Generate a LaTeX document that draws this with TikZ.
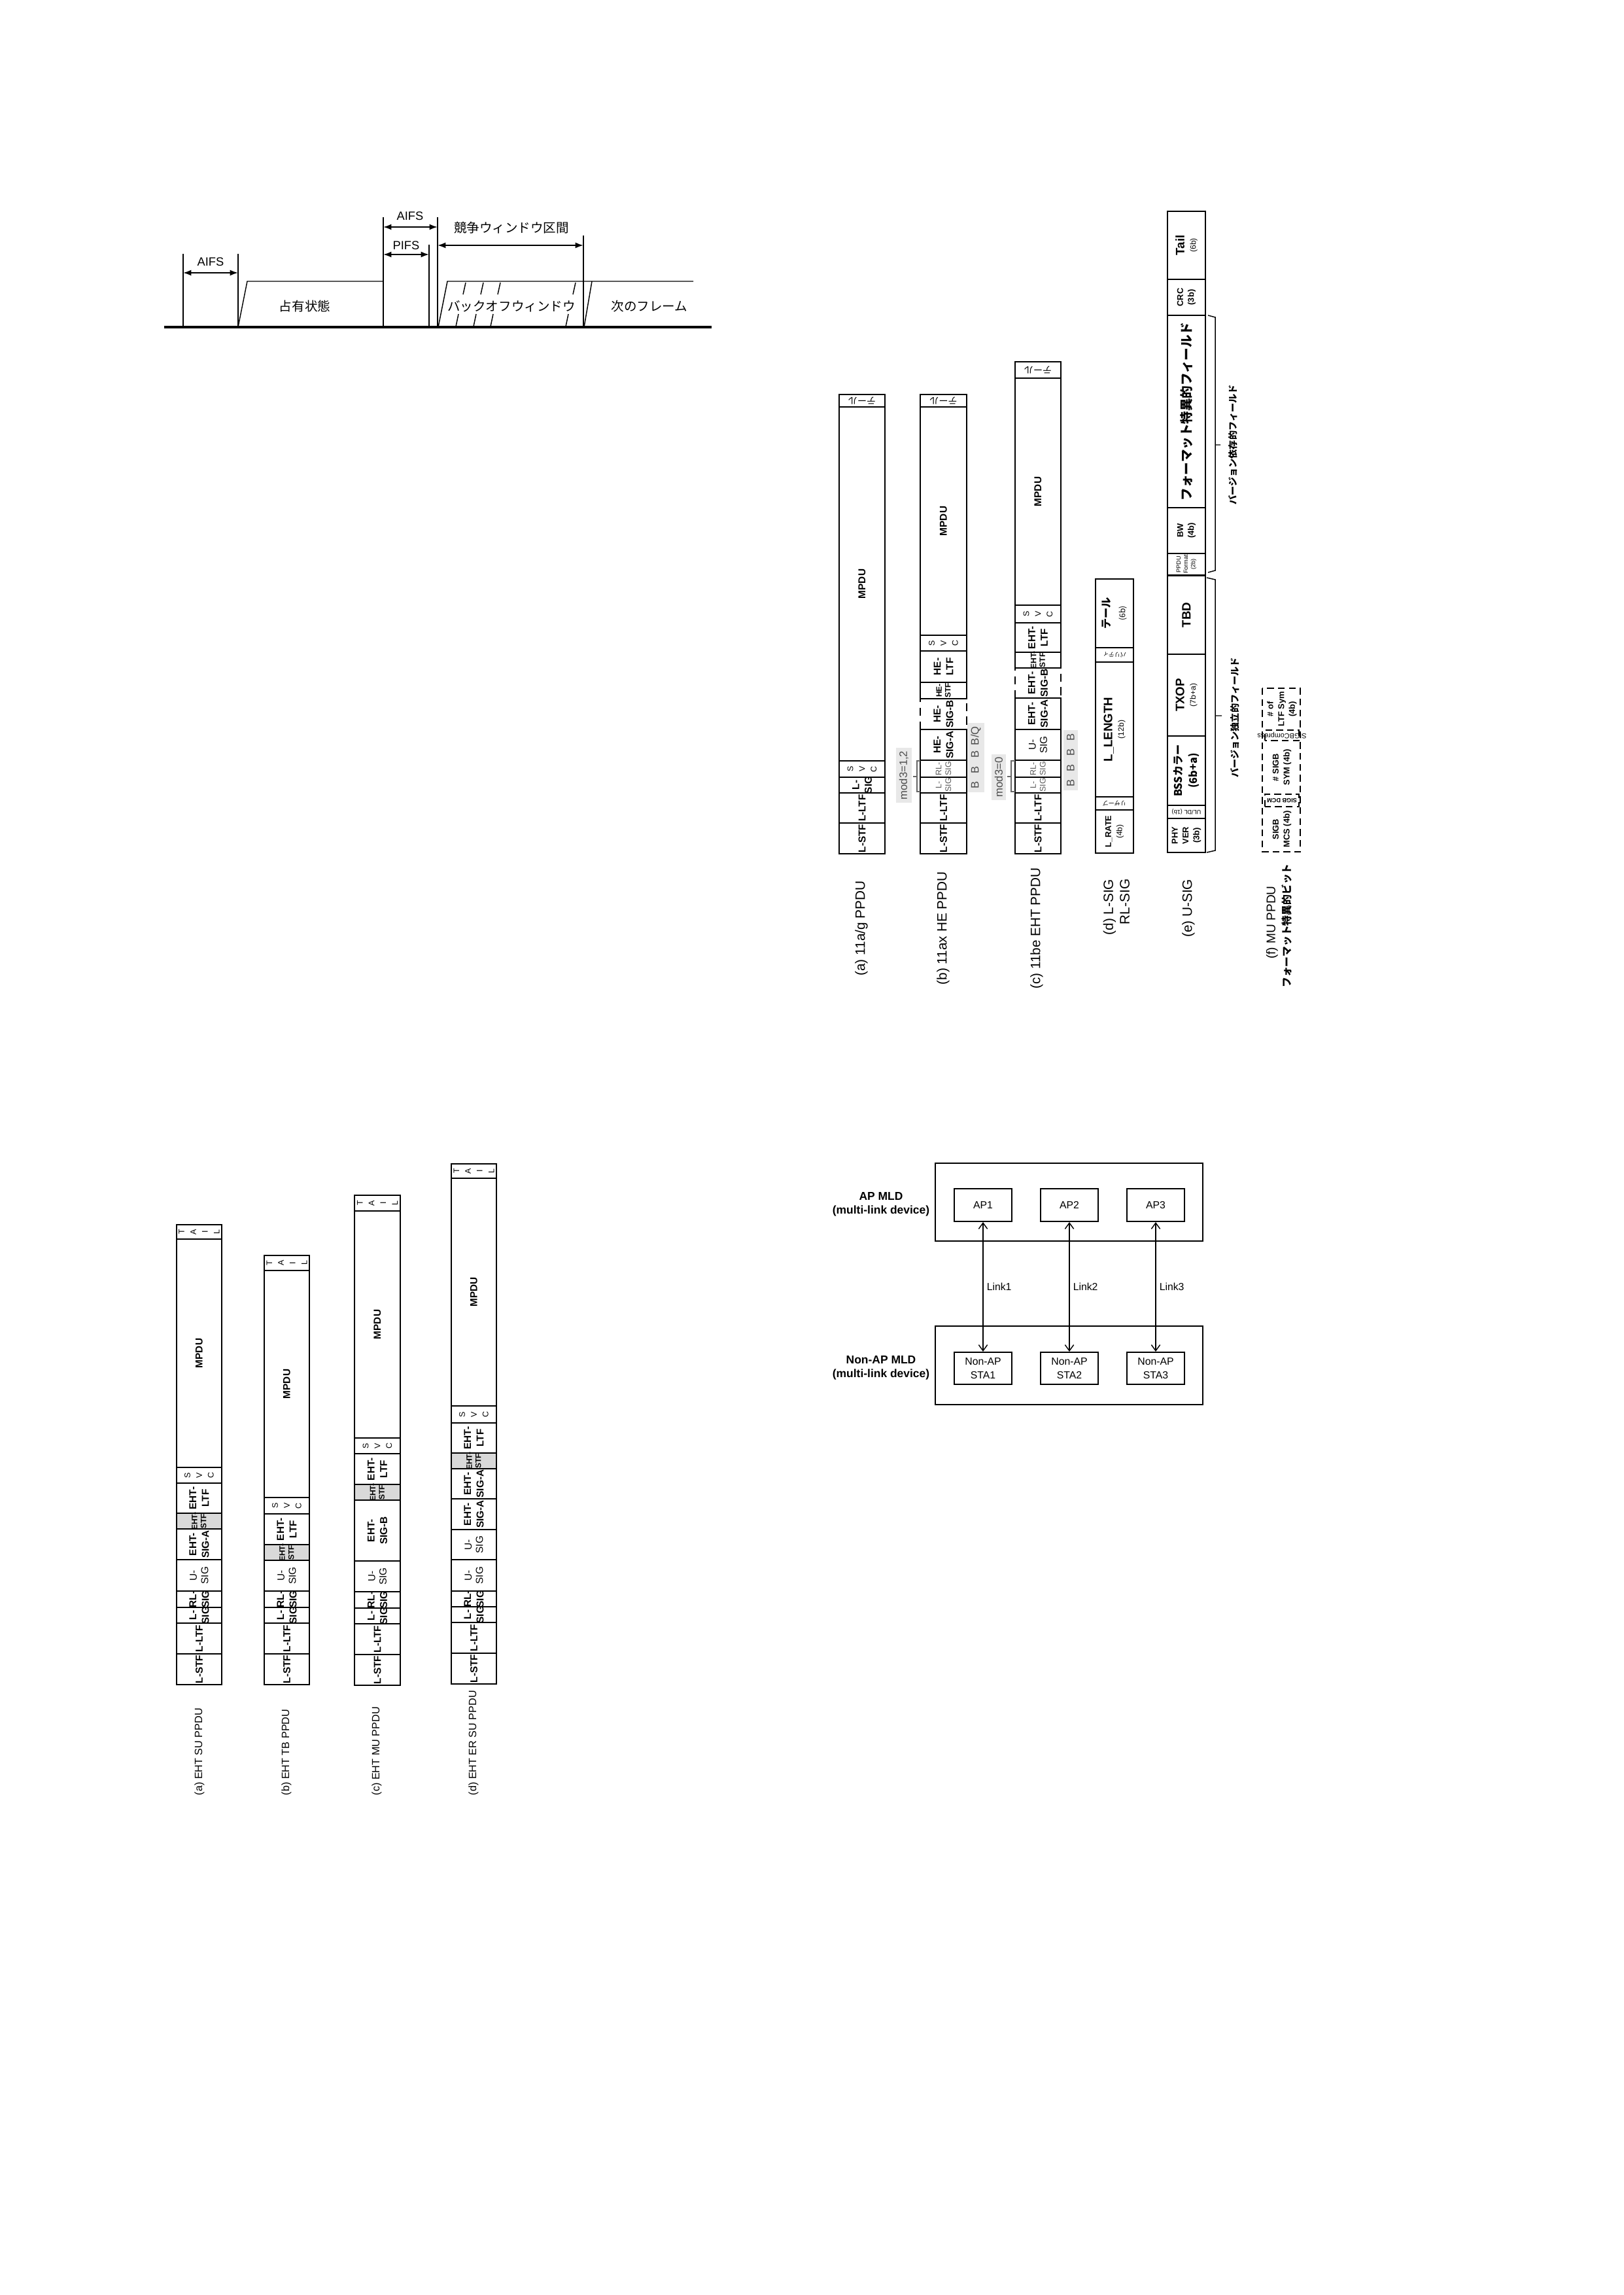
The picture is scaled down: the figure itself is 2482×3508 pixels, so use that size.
\documentclass[tikz,border=0pt]{standalone}
\usepackage{fontspec}
\setmainfont{Liberation Sans}
\newfontfamily\jp{Noto Sans CJK JP}
\usetikzlibrary{arrows.meta,positioning}

\newlength\pxu
\setlength\pxu{0.084611mm}
\newcommand{\fz}[2]{\fontsize{#1}{#2}\selectfont}
\newcommand{\bt}[1]{{\mdseries\fz{2.9}{3.4}#1}}

% one PPDU column: name, left x, right x, fields bottom/top/box/label/text
\newcommand{\ppducol}[4]{%
  \foreach \yb/\yt/\bs/\ls/\txt [count=\i] in {#4}{%
    \path[\bs] (#2,\yb) rectangle (#3,\yt);
    \node[\ls] (#1-\i) at ({(#2+#3)/2},{(\yb+\yt)/2}) {\txt};
  }}

\tikzset{
  fld/.style={draw,line width=0.45pt},
  dfld/.style={draw,line width=0.6pt,dash pattern=on 3pt off 2pt},
  ddf/.style={draw,line width=0.7pt,dash pattern=on 2.5pt off 1.5pt},
  gfld/.style={draw,line width=0.45pt,fill=gray!30},
  rl/.style={rotate=90,align=center,inner sep=0pt},
  tb/.style={rl,font=\bfseries\fz{3.7}{4.6}},
  tr/.style={rl,font=\fz{3.7}{4.2}},
  tg/.style={rl,text=black!65,font=\fz{3}{3.5}},
  ts/.style={rl,font=\bfseries\fz{2.9}{3.3}},
  tsv/.style={rl,font=\fz{3}{4.3}},
  tbs/.style={rl,font=\bfseries\fz{3.1}{4}},
  tbl/.style={rl,font=\bfseries\fz{4.5}{4.2}},
  tjl/.style={rl,font=\jp\bfseries\fz{3.9}{5.4}},
  tjx/.style={rl,font=\jp\bfseries\fz{4.7}{5}},
  tpp/.style={rl,font=\fz{2.2}{2.7}},
  tj/.style={rotate=180,inner sep=0pt,font=\jp\fz{3.4}{4}},
  tu/.style={rotate=180,inner sep=0pt,font=\jp\fz{2.2}{2.5}},
  tul/.style={rotate=180,inner sep=0pt,font=\fz{2.2}{2.5}},
  capt/.style={rl,font=\fz{5}{6}},
  captb/.style={rl,font=\fz{3.9}{4.6}},
  brc/.style={draw,black!60,line width=0.35pt},
  hl/.style={rotate=90,fill=gray!18,text=black!70,inner sep=1.2pt,font=\fz{4}{4}},
  tline/.style={line width=0.35pt},
  dimarr/.style={<->,>={Latex[length=3pt,width=2.2pt]},line width=0.5pt},
  tlbl/.style={inner sep=0pt,font=\fz{4.4}{5}},
  tjp/.style={inner sep=0pt,font=\jp\fz{4.7}{5}},
  mbox/.style={draw,line width=0.5pt,minimum width=88\pxu,minimum height=50\pxu,align=center,inner sep=0pt,font=\fz{3.8}{5}},
  mld/.style={draw,line width=0.6pt,minimum width=409\pxu,minimum height=119\pxu},
  mlbl/.style={align=center,inner sep=0pt,font=\bfseries\fz{4.2}{5}},
  lnk/.style={<->,>={Straight Barb[length=2.2pt,width=3.2pt]},line width=0.35pt},
}

\begin{document}
\begin{tikzpicture}[x=0.084611mm,y=-0.084611mm]
\useasboundingbox (0,0) rectangle (2482,3508);

% ---- access timing ----
\draw[line width=1pt] (251,500) -- (1088,500);
\foreach \x/\yt in {280/388,364/388,586/332,656/374,669/332,892/360}
  \draw[tline] (\x,\yt) -- (\x,500);
\draw[tline] (364,500) -- (378,430) -- (586,430);
\draw[tline] (670,500) -- (684,430) -- (1060,430);
\draw[tline] (893,500) -- (905,430);
\foreach \x in {712,739,765,880}{
  \draw[tline] (\x,432) -- (\x-4,450);
  \draw[tline] (\x-11,480) -- (\x-15,499);
}
\draw[dimarr] (280,417) -- (364,417);
\draw[dimarr] (586,347) -- (669,347);
\draw[dimarr] (586,389) -- (656,389);
\draw[dimarr] (669,375) -- (892,375);
\node[tlbl] (aifs1) at (322,400) {AIFS};
\node[tlbl] (aifs2) at (627,330) {AIFS};
\node[tlbl] (pifs) at (621,375) {PIFS};
\node[tjp] (cw) at (782,348) {競争ウィンドウ区間};
\node[tjp] (busy) at (466,468) {占有状態};
\node[tjp] (bo) at (782,468) {バックオフウィンドウ};
\node[tjp] (nxt) at (993,468) {次のフレーム};

% ---- PPDU formats ----
\ppducol{pa}{1283}{1353}{1305/1258/fld/tb/L-STF, 1258/1212/fld/tb/L-LTF,
  1212/1188/fld/tb/{L-\\SIG}, 1188/1163/fld/tsv/{S\\V\\C},
  1163/622/fld/tb/MPDU, 622/603/fld/tj/テール}
\ppducol{pb}{1407}{1478}{1305/1258/fld/tb/L-STF, 1258/1212/fld/tb/L-LTF,
  1212/1188/fld/tg/{L-\\SIG}, 1188/1162/fld/tg/{RL-\\SIG},
  1162/1115/fld/tb/{HE-\\SIG-A}, 1115/1068/dfld/tb/{HE-\\SIG-B},
  1068/1043/fld/ts/{HE-\\STF}, 1043/995/fld/tb/{HE-\\LTF},
  995/971/fld/tsv/{S\\V\\C}, 971/622/fld/tb/MPDU, 622/603/fld/tj/テール}
\ppducol{pc}{1552}{1622}{1305/1258/fld/tb/L-STF, 1258/1212/fld/tb/L-LTF,
  1212/1188/fld/tg/{L-\\SIG}, 1188/1162/fld/tg/{RL-\\SIG},
  1162/1115/fld/tr/{U-\\SIG}, 1115/1067/fld/tb/{EHT-\\SIG-A},
  1067/1021/dfld/tb/{EHT-\\SIG-B}, 1021/997/fld/ts/{EHT-\\STF},
  997/952/fld/tb/{EHT-\\LTF}, 952/925/fld/tsv/{S\\V\\C},
  925/578/fld/tb/MPDU, 578/553/fld/tj/テール}
\ppducol{pd}{1675}{1733}{1304/1238/fld/tbs/{L\_RATE\\\bt{(4b)}},
  1238/1218/fld/tu/リザーブ, 1218/1012/fld/tbl/{L\_LENGTH\\\bt{(12b)}},
  1012/990/fld/tu/パリティ, 990/885/fld/tjl/{テール\\\bt{(6b)}}}
\ppducol{pe}{1785}{1843}{1303/1251/fld/tbs/{PHY\\VER\\(3b)},
  1251/1231/fld/tul/{UL/DL (1b)}, 1231/1125/fld/tjl/{BSSカラー\\(6b+a)},
  1125/1000/fld/tbl/{TXOP\\\bt{(7b+a)}}, 1000/880/fld/tbl/TBD,
  879/846/fld/tpp/{PPDU\\Format\\(2b)}, 846/776/fld/tbs/{BW\\(4b)},
  776/482/fld/tjx/フォーマット特異的フィールド, 482/427/fld/tbs/{CRC\\(3b)},
  427/323/fld/tbl/{Tail\\\bt{(6b)}}}
\draw[ddf] (1930,1052) rectangle (1988,1302);
\ppducol{pf}{1934}{1986}{1302/1233/{}/tbs/{SIGB\\MCS (4b)},
  1233/1214/ddf/tul/{\bfseries SIGB DCM}, 1214/1132/{}/tbs/{\# SIGB\\SYM (4b)},
  1132/1116/ddf/tul/{\fz{2.6}{3}SIGBCompress}, 1116/1052/{}/tbs/{\# of\\LTF Sym\\(4b)}}

% mod3 annotations
\draw[brc] (1407,1163) -- (1402,1163) -- (1402,1210) -- (1407,1210) (1402,1187) -- (1396,1187);
\draw[brc] (1552,1163) -- (1546,1163) -- (1546,1210) -- (1552,1210) (1546,1187) -- (1540,1187);
\node[hl] (m12) at (1382,1185) {mod3=1,2};
\node[hl] (bb1) at (1492,1158) {B\hspace{3pt}B\hspace{3pt}B\hspace{2pt}B/Q};
\node[hl] (m0) at (1527,1188) {mod3=0};
\node[hl] (bb2) at (1637,1162) {B\hspace{3pt}B\hspace{3pt}B\hspace{3pt}B};

% U-SIG field groups
\draw[brc,black] (1845,1303) -- (1858,1300) -- (1858,886) -- (1845,883) (1858,1094) -- (1868,1094);
\draw[brc,black] (1847,875) -- (1858,872) -- (1858,485) -- (1847,482) (1858,680) -- (1866,680);
\node[rl,font=\jp\bfseries\fz{3.4}{4}] (vind) at (1888,1097) {バージョン独立的フィールド};
\node[rl,font=\jp\bfseries\fz{3.4}{4}] (vdep) at (1885,680) {バージョン依存的フィールド};

\node[capt] (ca) at (1317,1419) {(a) 11a/g PPDU};
\node[capt] (cb) at (1442,1419) {(b) 11ax HE PPDU};
\node[capt] (cc) at (1585,1419) {(c) 11be EHT PPDU};
\node[capt,align=right,anchor=east] (cd) at (1707,1343) {(d) L-SIG\\RL-SIG};
\node[capt,anchor=east] (ce) at (1817,1343) {(e) U-SIG};
\node[capt,font=\fz{4.6}{4.8}] (cf) at (1945,1410) {(f) MU PPDU};
\node[rl,font=\jp\bfseries\fz{3.8}{4}] (cfj) at (1967,1415) {フォーマット特異的ビット};

% ---- EHT PPDUs ----
\ppducol{ea}{270}{339}{2575/2528/fld/tb/L-STF, 2528/2481/fld/tb/L-LTF,
  2481/2457/fld/tb/{L-\\SIG}, 2457/2432/fld/tb/{RL-\\SIG},
  2432/2384/fld/tr/{U-\\SIG}, 2384/2337/fld/tb/{EHT-\\SIG-A},
  2337/2313/gfld/ts/{EHT-\\STF}, 2313/2267/fld/tb/{EHT-\\LTF},
  2267/2243/fld/tsv/{S\\V\\C}, 2243/1894/fld/tb/MPDU, 1894/1872/fld/tsv/{T\\A\\I\\L}}
\ppducol{eb}{404}{473}{2575/2528/fld/tb/L-STF, 2528/2481/fld/tb/L-LTF,
  2481/2457/fld/tb/{L-\\SIG}, 2457/2432/fld/tb/{RL-\\SIG},
  2432/2385/fld/tr/{U-\\SIG}, 2385/2361/gfld/ts/{EHT-\\STF},
  2361/2314/fld/tb/{EHT-\\LTF}, 2314/2289/fld/tsv/{S\\V\\C},
  2289/1942/fld/tb/MPDU, 1942/1919/fld/tsv/{T\\A\\I\\L}}
\ppducol{ec}{542}{612}{2576/2529/fld/tb/L-STF, 2529/2482/fld/tb/L-LTF,
  2482/2458/fld/tb/{L-\\SIG}, 2458/2433/fld/tb/{RL-\\SIG},
  2433/2386/fld/tr/{U-\\SIG}, 2386/2293/fld/tb/{EHT-\\SIG-B},
  2293/2269/gfld/ts/{EHT-\\STF}, 2269/2222/fld/tb/{EHT-\\LTF},
  2222/2198/fld/tsv/{S\\V\\C}, 2198/1851/fld/tb/MPDU, 1851/1827/fld/tsv/{T\\A\\I\\L}}
\ppducol{ed}{690}{759}{2574/2527/fld/tb/L-STF, 2527/2480/fld/tb/L-LTF,
  2480/2456/fld/tb/{L-\\SIG}, 2456/2432/fld/tb/{RL-\\SIG},
  2432/2384/fld/tr/{U-\\SIG}, 2384/2338/fld/tr/{U-\\SIG},
  2338/2291/fld/tb/{EHT-\\SIG-A}, 2291/2245/fld/tb/{EHT-\\SIG-A},
  2245/2221/gfld/ts/{EHT-\\STF}, 2221/2175/fld/tb/{EHT-\\LTF},
  2175/2149/fld/tsv/{S\\V\\C}, 2149/1801/fld/tb/MPDU, 1801/1779/fld/tsv/{T\\A\\I\\L}}
\node[captb,anchor=west] (ka) at (305,2745) {(a) EHT SU PPDU};
\node[captb,anchor=west] (kb) at (438,2745) {(b) EHT TB PPDU};
\node[captb,anchor=west] (kc) at (576,2745) {(c) EHT MU PPDU};
\node[captb,anchor=west] (kd) at (724,2745) {(d) EHT ER SU PPDU};

% ---- multi-link devices ----
\node[mld] (apmld) at (1634.5,1837.5) {};
\node[mld,minimum height=120\pxu] (stamld) at (1634.5,2087) {};
\node[mbox] (ap1) at (1503,1842) {AP1};
\node[mbox] (ap2) at (1635,1842) {AP2};
\node[mbox] (ap3) at (1767,1842) {AP3};
\node[mbox,minimum height=49\pxu] (sta1) at (1503,2091.5) {Non-AP\\STA1};
\node[mbox,minimum height=49\pxu] (sta2) at (1635,2091.5) {Non-AP\\STA2};
\node[mbox,minimum height=49\pxu] (sta3) at (1767,2091.5) {Non-AP\\STA3};
\foreach \k in {1,2,3}
  \draw[lnk] (ap\k) -- (sta\k) node[midway,anchor=west,xshift=5\pxu,inner sep=0pt,font=\fz{3.8}{4}] (lk\k) {Link\k};
\node[mlbl] (apl) at (1347,1840.5) {AP MLD\\(multi-link device)};
\node[mlbl] (stal) at (1347,2090.5) {Non-AP MLD\\(multi-link device)};
\end{tikzpicture}
\end{document}
